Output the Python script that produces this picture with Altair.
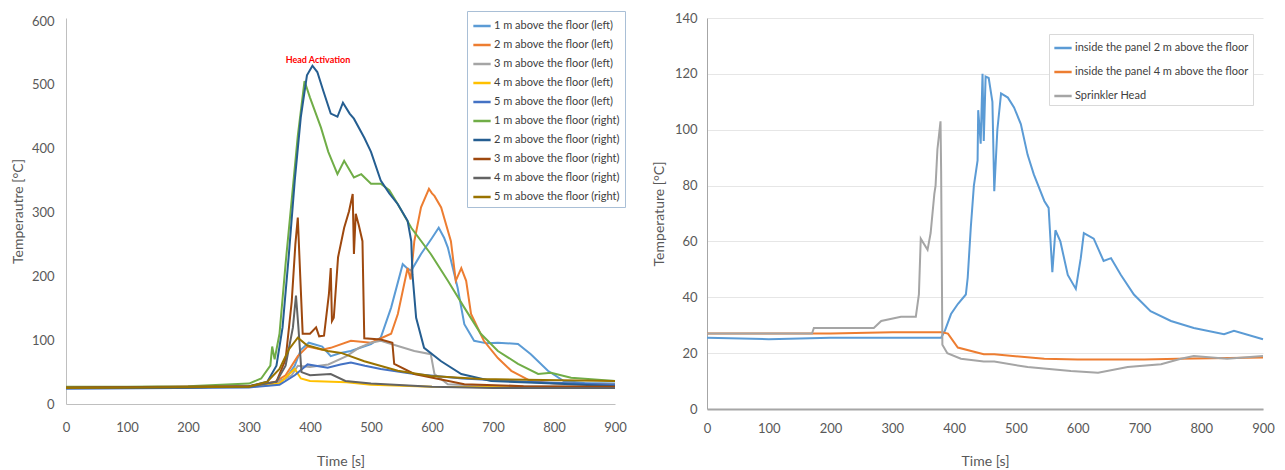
import altair as alt
import pandas as pd

# ---------------- Left chart data ----------------
left_names = [
    "1 m above the floor (left)", "2 m above the floor (left)", "3 m above the floor (left)",
    "4 m above the floor (left)", "5 m above the floor (left)", "1 m above the floor (right)",
    "2 m above the floor (right)", "3 m above the floor (right)", "4 m above the floor (right)",
    "5 m above the floor (right)",
]
left_colors = ["#5B9BD5", "#ED7D31", "#A5A5A5", "#FFC000", "#4472C4",
               "#70AD47", "#255E91", "#9E480E", "#636363", "#997300"]

l1_t = [0, 100, 200, 300, 340, 360, 375, 385, 398, 420, 434, 450, 467, 500, 516, 533, 552, 560, 566, 582, 600, 611, 620, 626, 642, 653, 669, 690, 708, 741, 762, 790, 816, 850, 900]
l1_v = [25, 25, 26, 28, 32, 40, 60, 85, 96, 90, 75, 80, 83, 94, 104, 151, 219, 212, 209, 235, 260, 276, 260, 245, 182, 125, 99, 95, 96, 94, 78, 52, 36, 33, 32]

l2_t = [0, 100, 200, 300, 340, 360, 380, 396, 420, 434, 467, 500, 533, 544, 560, 565, 571, 582, 595, 600, 604, 615, 631, 639, 648, 656, 664, 675, 685, 708, 730, 762, 800, 900]
l2_v = [26, 26, 27, 28, 33, 45, 75, 90, 85, 88, 99, 96, 110, 141, 213, 195, 255, 308, 337, 330, 326, 308, 255, 193, 213, 193, 141, 119, 99, 72, 52, 36, 32, 30]

l3_t = [0, 200, 300, 340, 370, 380, 400, 430, 460, 480, 500, 516, 540, 571, 598, 604, 626, 700, 900]
l3_v = [26, 26, 27, 30, 45, 60, 58, 62, 75, 88, 96, 99, 92, 83, 78, 47, 31, 28, 27]

l4_t = [0, 300, 350, 375, 385, 400, 460, 500, 600, 900]
l4_v = [25, 27, 32, 55, 40, 36, 34, 30, 27, 25]

l5_t = [0, 300, 350, 375, 396, 429, 450, 467, 490, 516, 571, 650, 750, 900]
l5_v = [24, 26, 30, 45, 62, 57, 62, 65, 60, 55, 47, 40, 35, 30]

l6_t = [0, 100, 200, 300, 320, 335, 338, 342, 350, 360, 370, 380, 391, 400, 418, 430, 445, 456, 472, 484, 500, 516, 530, 544, 566, 598, 626, 653, 680, 708, 741, 774, 795, 828, 900]
l6_v = [27, 27, 28, 32, 40, 60, 90, 70, 110, 220, 320, 420, 506, 480, 433, 395, 360, 381, 355, 360, 345, 345, 335, 313, 276, 235, 193, 151, 110, 83, 63, 47, 49, 41, 36]

l7_t = [0, 100, 200, 300, 330, 345, 355, 365, 375, 385, 395, 404, 412, 422, 434, 445, 454, 465, 472, 489, 500, 516, 530, 544, 560, 566, 568, 574, 587, 615, 648, 697, 800, 900]
l7_v = [25, 25, 26, 28, 35, 60, 120, 230, 350, 450, 515, 530, 520, 490, 455, 450, 472, 455, 447, 417, 395, 350, 330, 313, 287, 255, 203, 135, 88, 67, 47, 36, 32, 28]

l8_t = [0, 300, 345, 360, 370, 376, 380, 384, 388, 400, 410, 415, 423, 431, 434, 436, 439, 446, 456, 464, 470, 472, 475, 480, 486, 489, 516, 535, 538, 571, 653, 750, 900]
l8_v = [26, 28, 35, 70, 160, 250, 292, 200, 110, 110, 120, 106, 107, 172, 213, 130, 135, 230, 276, 302, 329, 235, 298, 280, 255, 103, 101, 96, 63, 47, 31, 28, 27]

l9_t = [0, 300, 345, 360, 372, 377, 381, 386, 400, 434, 458, 500, 600, 700, 900]
l9_v = [25, 27, 35, 60, 120, 170, 120, 50, 45, 47, 36, 32, 27, 25, 25]

l10_t = [0, 300, 330, 350, 365, 380, 395, 429, 451, 489, 544, 598, 680, 900]
l10_v = [25, 27, 35, 55, 85, 104, 92, 83, 80, 67, 52, 44, 39, 36]

left_t = [l1_t, l2_t, l3_t, l4_t, l5_t, l6_t, l7_t, l8_t, l9_t, l10_t]
left_v = [l1_v, l2_v, l3_v, l4_v, l5_v, l6_v, l7_v, l8_v, l9_v, l10_v]

annot_text = ["Head Activation"]
annot_t = [413]
annot_v = [539]

# ---------------- Right chart data ----------------
right_names = ["inside the panel 2 m above the floor", "inside the panel 4 m above the floor", "Sprinkler Head"]
right_colors = ["#5B9BD5", "#ED7D31", "#A5A5A5"]

r1_t = [0, 100, 200, 300, 379, 385, 395, 406, 419, 422, 427, 432, 438, 439, 443, 446, 448, 451, 456, 462, 465, 470, 476, 487, 497, 508, 519, 529, 546, 553, 559, 564, 572, 584, 597, 605, 610, 626, 642, 654, 670, 691, 718, 751, 788, 837, 853, 900]
r1_v = [25.5, 25, 25.5, 25.5, 25.5, 28, 34, 37.6, 41, 47, 65, 80, 89, 107, 95, 120, 96, 119, 118.5, 110, 78, 100, 113, 111.5, 108, 102, 91, 84, 74.5, 72, 49, 64, 60, 48, 43, 54, 63, 61, 53, 54, 48, 41, 35, 31.5, 29, 26.8, 28, 25]

r2_t = [0, 100, 200, 300, 380, 390, 406, 448, 465, 546, 600, 708, 762, 900]
r2_v = [27, 27, 27, 27.5, 27.5, 27, 22, 19.6, 19.6, 18, 17.7, 17.7, 18, 18.4]

r3_t = [0, 100, 170, 173, 270, 282, 314, 338, 343, 346, 357, 362, 368, 370, 373, 378, 379, 381, 389, 411, 448, 465, 519, 589, 633, 681, 735, 767, 788, 842, 900]
r3_v = [27, 27, 27, 29, 29, 31.5, 33, 33, 41, 61, 57, 63, 77, 80, 93, 103, 85, 23, 20, 18, 17, 17, 15, 13.6, 13, 15, 16, 18, 19, 18, 19]

right_t = [r1_t, r2_t, r3_t]
right_v = [r1_v, r2_v, r3_v]


def long_df(names, ts, vs):
    rows = []
    for k, (n, tt, vv) in enumerate(zip(names, ts, vs)):
        for i, (a, b) in enumerate(zip(tt, vv)):
            rows.append({"series": n, "t": a, "v": b, "k": k, "i": i})
    return pd.DataFrame(rows)


left_df = long_df(left_names, left_t, left_v)
right_df = long_df(right_names, right_t, right_v)
annot_df = pd.DataFrame({"label": annot_text, "t": annot_t, "v": annot_v})

FONT = "Lato"
ticks = list(range(0, 901, 100))
GRAY = "#595959"

# left plot is 386 px tall so that the 600 tick sits 3 px below its top
LEFT_H = 386
left_top = 600 * LEFT_H / 383.0

left_lines = alt.Chart(left_df).mark_line(strokeWidth=2).encode(
    x=alt.X("t:Q", scale=alt.Scale(domain=[0, 900], nice=False),
            axis=alt.Axis(title="Time [s]", values=ticks, grid=False, ticks=False, labelFlush=False,
                          labelPadding=17, titlePadding=20, domainColor="#BFBFBF",
                          labelFontSize=13, titleFontSize=14, labelColor=GRAY,
                          titleColor=GRAY, titleFontWeight="normal")),
    y=alt.Y("v:Q", scale=alt.Scale(domain=[0, left_top], nice=False),
            axis=alt.Axis(title="Temperautre [°C]", values=list(range(0, 601, 100)), grid=False,
                          ticks=False, labelPadding=12, titlePadding=6, domainColor="#BFBFBF",
                          labelFlush=False, labelFontSize=13, titleFontSize=14, labelColor=GRAY,
                          titleColor=GRAY, titleFontWeight="normal")),
    color=alt.Color("series:N", scale=alt.Scale(domain=left_names, range=left_colors),
                    legend=alt.Legend(title=None, orient="none", legendX=401, legendY=-7,
                                      symbolType="stroke", symbolStrokeWidth=2.5, symbolSize=300,
                                      labelFont=FONT, labelFontSize=11, labelColor="#404040",
                                      labelOffset=2, rowPadding=4, padding=5, fillColor="white",
                                      strokeColor="#A9BFD6", labelLimit=300)),
    order="i:Q",
    detail="k:N",
)

left_text = alt.Chart(annot_df).mark_text(color="#FF0000", fontWeight="bold", fontSize=9,
                                          font=FONT, baseline="middle", align="center").encode(
    x="t:Q", y="v:Q", text="label:N")

left = alt.layer(left_lines, left_text).properties(width=549, height=LEFT_H)

right = alt.Chart(right_df).mark_line(strokeWidth=2).encode(
    x=alt.X("t:Q", scale=alt.Scale(domain=[0, 900], nice=False),
            axis=alt.Axis(title="Time [s]", values=ticks, grid=False, ticks=False, labelFlush=False,
                          labelPadding=13, titlePadding=19, domainColor="#A6A6A6", domainWidth=2,
                          labelFontSize=13, titleFontSize=14, labelColor=GRAY,
                          titleColor=GRAY, titleFontWeight="normal")),
    y=alt.Y("v:Q", scale=alt.Scale(domain=[0, 140], nice=False),
            axis=alt.Axis(title="Temperature [°C]", values=list(range(0, 141, 20)), grid=True,
                          gridColor="#E6E6E6", ticks=False, labelPadding=10, titlePadding=8,
                          labelFlush=False, domainColor="#A6A6A6", labelFontSize=13, titleFontSize=14,
                          labelColor=GRAY, titleColor=GRAY, titleFontWeight="normal")),
    color=alt.Color("series:N", scale=alt.Scale(domain=right_names, range=right_colors),
                    legend=alt.Legend(title=None, orient="none", legendX=342, legendY=16,
                                      symbolType="stroke", symbolStrokeWidth=2.5, symbolSize=300,
                                      labelFont=FONT, labelFontSize=11, labelColor="#404040",
                                      labelOffset=2, rowPadding=9, padding=4, fillColor="white",
                                      strokeColor="#D9D9D9", labelLimit=300)),
    order="i:Q",
    detail="k:N",
).properties(width=556, height=391)

chart = alt.hconcat(left, right, spacing=92, bounds="flush").resolve_scale(
    color="independent").resolve_legend(color="independent").properties(
    padding={"left": 3, "top": 2, "right": 0, "bottom": 0}
).configure(font=FONT).configure_view(stroke=None)

chart.save("out.html", embed_options={"renderer": "svg", "actions": False})
